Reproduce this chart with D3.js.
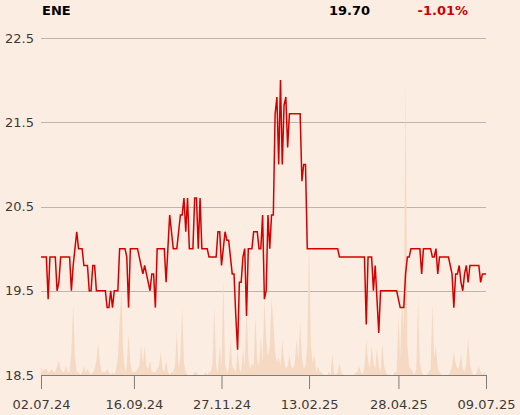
<!DOCTYPE html>
<html>
<head>
<meta charset="utf-8">
<script src="https://cdn.jsdelivr.net/npm/d3@7"></script>
<style>
  body { margin: 0; background: #fbede2; }
  .chart text { font-family: "DejaVu Sans", sans-serif; }
</style>
</head>
<body>
<div class="chart"></div>
<script>
var svgWidth = 520;
var svgHeight = 415;

// header values
var ticker = "ENE";
var lastPrice = "19.70";
var change = "-1.01%";

// daily close, one per trading day (02.07.24 .. 09.07.25)
var prices = [
  19.9, 19.9, 19.9, 19.9, 19.4, 19.9, 19.9, 19.9, 19.9, 19.5,
  19.6, 19.9, 19.9, 19.9, 19.9, 19.9, 19.9, 19.5, 19.8, 20.0,
  20.2, 20.0, 20.0, 20.0, 19.8, 19.8, 19.8, 19.5, 19.5, 19.8,
  19.8, 19.5, 19.5, 19.5, 19.5, 19.5, 19.5, 19.3, 19.3, 19.5,
  19.3, 19.5, 19.5, 19.5, 20.0, 20.0, 20.0, 20.0, 19.9, 19.3,
  20.0, 20.0, 20.0, 20.0, 20.0, 19.9, 19.8, 19.7, 19.8, 19.7,
  19.6, 19.5, 19.7, 19.7, 19.3, 20.0, 20.0, 20.0, 20.0, 20.0,
  19.6, 20.0, 20.4, 20.2, 20.0, 20.0, 20.0, 20.2, 20.4, 20.4,
  20.6, 20.2, 20.6, 20.0, 20.0, 20.0, 20.6, 20.6, 20.0, 20.6,
  20.0, 20.0, 20.0, 20.0, 19.9, 19.9, 19.9, 19.9, 19.9, 20.2,
  20.2, 19.8, 20.0, 20.2, 20.1, 20.1, 19.9, 19.7, 19.7, 19.2,
  18.8, 19.6, 19.6, 19.9, 20.0, 19.2, 20.0, 20.0, 20.0, 20.2,
  20.2, 20.2, 20.0, 20.0, 20.4, 19.4, 19.5, 20.4, 20.0, 20.4,
  20.4, 21.6, 21.8, 21.0, 22.0, 21.0, 21.7, 21.8, 21.2, 21.6,
  21.6, 21.6, 21.6, 21.6, 21.6, 21.6, 20.8, 21.0, 21.0, 20.0,
  20.0, 20.0, 20.0, 20.0, 20.0, 20.0, 20.0, 20.0, 20.0, 20.0,
  20.0, 20.0, 20.0, 20.0, 20.0, 20.0, 20.0, 19.9, 19.9, 19.9,
  19.9, 19.9, 19.9, 19.9, 19.9, 19.9, 19.9, 19.9, 19.9, 19.9,
  19.9, 19.9, 19.1, 19.9, 19.9, 19.9, 19.5, 19.8, 19.4, 19.0,
  19.5, 19.5, 19.5, 19.5, 19.5, 19.5, 19.5, 19.5, 19.5, 19.5,
  19.4, 19.3, 19.3, 19.3, 19.7, 19.9, 19.9, 20.0, 20.0, 20.0,
  20.0, 20.0, 20.0, 19.7, 20.0, 20.0, 20.0, 20.0, 20.0, 19.9,
  19.9, 20.0, 19.7, 19.9, 19.9, 19.9, 19.9, 19.9, 19.9, 19.8,
  19.7, 19.3, 19.7, 19.7, 19.8, 19.6, 19.5, 19.7, 19.8, 19.6,
  19.8, 19.8, 19.8, 19.8, 19.8, 19.8, 19.6, 19.7, 19.7, 19.7
];

// traded volume per day (relative units)
var volumes = [
  3, 1, 2, 2, 1, 1, 2, 1, 1, 3,
  5, 2, 1, 1, 3, 1, 1, 8, 24, 6,
  1, 1, 0, 1, 3, 1, 2, 1, 0, 1,
  2, 5, 11, 4, 1, 1, 1, 2, 1, 0,
  1, 0, 2, 6, 18, 29, 8, 1, 3, 14,
  4, 1, 1, 1, 2, 3, 10, 4, 10, 3,
  2, 5, 1, 1, 1, 2, 3, 8, 2, 1,
  5, 1, 0, 1, 1, 3, 15, 2, 6, 23,
  4, 1, 0, 0, 0, 0, 1, 1, 0, 0,
  0, 0, 1, 0, 1, 1, 4, 23, 3, 1,
  10, 3, 32, 4, 1, 2, 12, 3, 2, 1,
  9, 2, 1, 9, 3, 24, 6, 2, 4, 3,
  20, 5, 3, 13, 4, 26, 12, 6, 10, 26,
  18, 8, 4, 6, 3, 12, 5, 2, 3, 7,
  3, 2, 4, 12, 5, 18, 6, 2, 3, 10,
  46, 10, 4, 7, 1, 3, 1, 1, 0, 0,
  0, 1, 0, 7, 1, 0, 1, 4, 1, 0,
  0, 0, 0, 0, 0, 0, 1, 1, 3, 1,
  0, 3, 12, 5, 2, 10, 4, 2, 9, 3,
  1, 11, 3, 1, 0, 0, 0, 0, 1, 1,
  20, 6, 26, 15, 100, 10, 3, 2, 1, 0,
  2, 26, 4, 1, 0, 0, 0, 1, 2, 24,
  6, 10, 2, 1, 0, 0, 0, 0, 0, 1,
  3, 8, 4, 2, 3, 7, 2, 1, 4, 13,
  4, 1, 0, 0, 1, 3, 1, 0, 1, 0
];

// x axis ticks: trading-day index and label
var tickIndex = [0, 52, 101, 150, 200, 249];
var tickLabels = ["02.07.24", "16.09.24", "27.11.24", "13.02.25", "28.04.25", "09.07.25"];
var yTicks = [18.5, 19.5, 20.5, 21.5, 22.5];

var plot = { x0: 41, x1: 486, y0: 38, y1: 375 };

var svg = d3.select(".chart")
  .append("svg")
  .attr("width", svgWidth)
  .attr("height", svgHeight)
  .style("display", "block")
  .style("background", "#fbede2");

var x = d3.scaleLinear()
  .domain([0, prices.length - 1])
  .range([plot.x0, plot.x1]);

var y = d3.scaleLinear()
  .domain([18.5, 22.5])
  .range([plot.y1, plot.y0]);

var yVol = d3.scaleLinear()
  .domain([0, d3.max(volumes)])
  .range([plot.y1, 80]);

// gridlines
svg.append("g")
  .selectAll("line")
  .data(yTicks)
  .enter()
  .append("line")
  .attr("x1", plot.x0)
  .attr("x2", plot.x1)
  .attr("y1", function(d) { return Math.round(y(d)) + 0.5; })
  .attr("y2", function(d) { return Math.round(y(d)) + 0.5; })
  .attr("stroke", "#bab5b0")
  .attr("stroke-width", 1);

// volume area
var area = d3.area()
  .x(function(d, i) { return x(i); })
  .y0(plot.y1)
  .y1(function(d) { return yVol(d); });

svg.append("path")
  .datum(volumes)
  .attr("d", area)
  .attr("fill", "#f6d9c3");

// price line
var line = d3.line()
  .x(function(d, i) { return x(i); })
  .y(function(d) { return y(d); });

svg.append("path")
  .datum(prices)
  .attr("d", line)
  .attr("fill", "none")
  .attr("stroke", "#d40000")
  .attr("stroke-width", 1.5)
  .attr("stroke-linejoin", "miter");

// y labels
var yAxis = d3.axisLeft(y)
  .tickValues(yTicks)
  .tickSize(0)
  .tickPadding(7)
  .tickFormat(d3.format(".1f"));

var gy = svg.append("g")
  .attr("transform", "translate(" + plot.x0 + ",0)")
  .call(yAxis);
gy.select(".domain").remove();
gy.selectAll("text")
  .attr("fill", "#3d3a38")
  .style("font-size", "13px")
  .style("font-family", "DejaVu Sans");

// x axis
var xAxis = d3.axisBottom(x)
  .tickValues(tickIndex)
  .tickSize(14)
  .tickPadding(11)
  .tickFormat(function(d, i) { return tickLabels[i]; });

var gx = svg.append("g")
  .attr("transform", "translate(0," + plot.y1 + ")")
  .call(xAxis);
gx.select(".domain")
  .attr("stroke", "#7f7b78")
  .attr("d", "M" + plot.x0 + ",0.5H" + plot.x1);
gx.selectAll(".tick line").attr("stroke", "#7f7b78");
gx.selectAll("text")
  .attr("fill", "#3d3a38")
  .style("font-size", "13px")
  .style("font-family", "DejaVu Sans");

// header
svg.append("text")
  .attr("x", 42)
  .attr("y", 15)
  .attr("font-weight", "bold")
  .style("font-size", "13px")
  .attr("fill", "#000")
  .text(ticker);

svg.append("text")
  .attr("x", 370)
  .attr("y", 15)
  .attr("text-anchor", "end")
  .attr("font-weight", "bold")
  .style("font-size", "13px")
  .attr("fill", "#000")
  .text(lastPrice);

svg.append("text")
  .attr("x", 468)
  .attr("y", 15)
  .attr("text-anchor", "end")
  .attr("font-weight", "bold")
  .style("font-size", "13px")
  .attr("fill", "#cc0000")
  .text(change);
</script>
</body>
</html>
